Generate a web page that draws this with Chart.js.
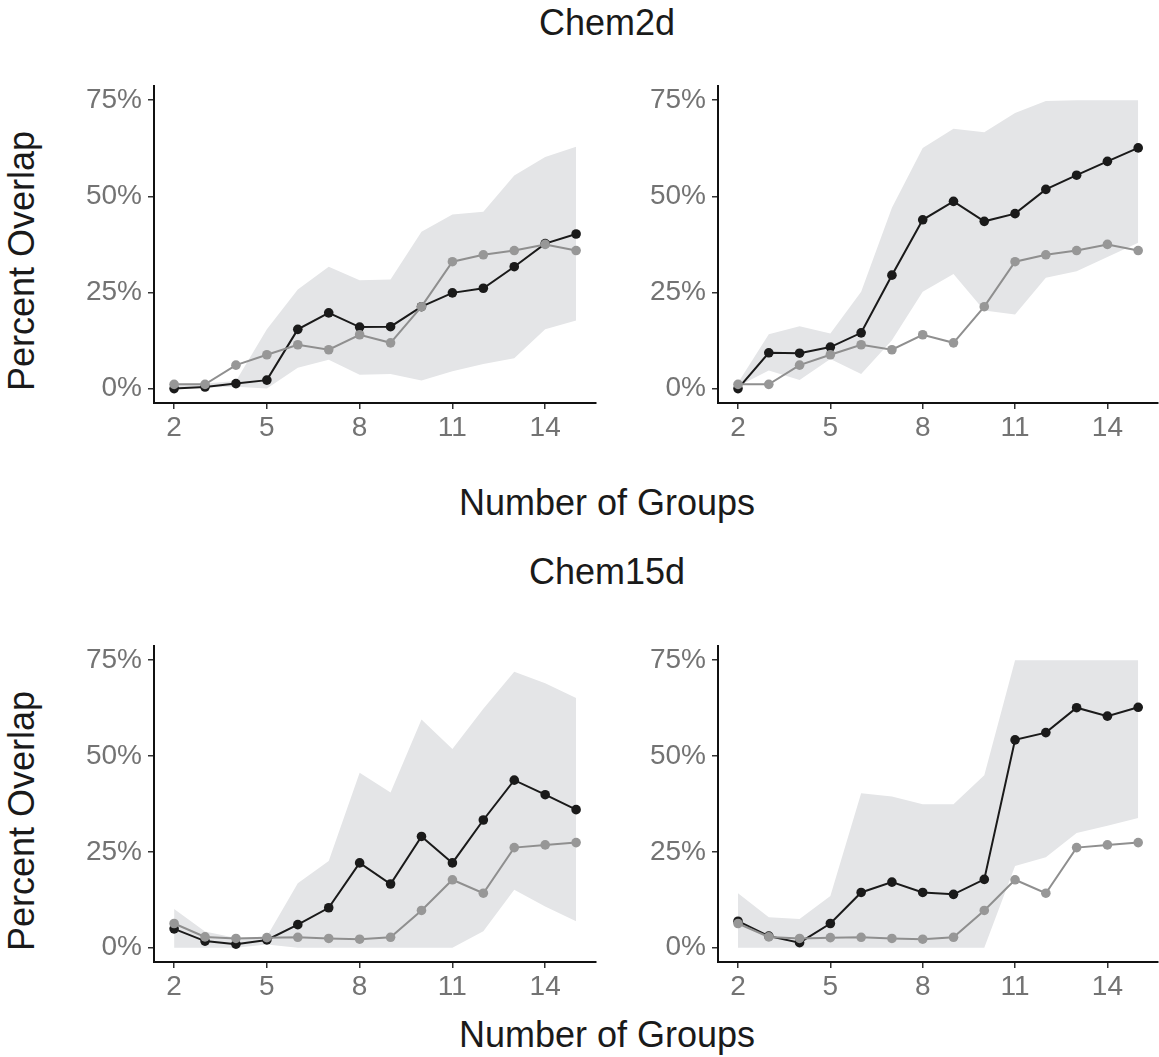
<!DOCTYPE html>
<html>
<head>
<meta charset="utf-8">
<script src="https://cdn.jsdelivr.net/npm/chart.js@4.4.0/dist/chart.umd.min.js"></script>
<style>
  html, body { margin: 0; padding: 0; background: #fff; overflow: hidden; }
  body { width: 1159px; height: 1057px; position: relative; font-family: "Liberation Sans", Arial, sans-serif; }
  canvas { position: absolute; }
  .title { position: absolute; left: 0; width: 1214px; text-align: center; font-size: 36px; line-height: 36px; color: #1a1a1a; white-space: nowrap; }
  .ylab { position: absolute; width: 320px; height: 36px; font-size: 36px; line-height: 36px; text-align: center; color: #1a1a1a; white-space: nowrap;
          transform: translate(-50%, -50%) rotate(-90deg); }
</style>
</head>
<body>
<div class="title" style="top:5px">Chem2d</div>
<div class="title" style="top:485px">Number of Groups</div>
<div class="title" style="top:554px">Chem15d</div>
<div class="title" style="top:1017px">Number of Groups</div>
<div class="ylab" style="left:22px; top:261px">Percent Overlap</div>
<div class="ylab" style="left:22px; top:821px">Percent Overlap</div>

<canvas id="c1"></canvas>
<canvas id="c2"></canvas>
<canvas id="c3"></canvas>
<canvas id="c4"></canvas>

<script>
// x values (number of groups) and axis ticks
const groups = [2, 3, 4, 5, 6, 7, 8, 9, 10, 11, 12, 13, 14, 15];
const xTicks = [2, 5, 8, 11, 14];
const yTicks = [0, 25, 50, 75];

// Chem2d
const chem2dGray = [1.1, 1.1, 6.1, 8.8, 11.4, 10.1, 14.0, 11.9, 21.3, 33.0, 34.8, 35.9, 37.5, 35.9];
const chem2dLeftBlack = [0, 0.4, 1.3, 2.2, 15.4, 19.7, 16.0, 16.1, 21.3, 24.9, 26.1, 31.7, 37.7, 40.2];
const chem2dLeftUpper = [1.2, 1.3, 2.0, 15.4, 25.8, 31.7, 28.2, 28.4, 40.8, 45.3, 46.0, 55.4, 60.2, 62.9];
const chem2dLeftLower = [0.2, 0.3, 0.5, 0, 5.4, 7.5, 3.6, 3.8, 2.1, 4.5, 6.4, 7.9, 15.4, 17.7];
const chem2dRightBlack = [0, 9.3, 9.2, 10.8, 14.5, 29.5, 43.9, 48.7, 43.5, 45.5, 51.8, 55.5, 59.1, 62.6];
const chem2dRightUpper = [1.5, 14.1, 16.2, 14.3, 25.2, 47.0, 62.6, 67.6, 66.7, 71.7, 74.8, 75, 75, 75];
const chem2dRightLower = [0.6, 4.7, 2.2, 7.7, 3.8, 12.6, 25.2, 29.8, 20.3, 19.3, 28.8, 30.5, 34.2, 37.9];

// Chem15d
const chem15dGray = [6.3, 2.8, 2.4, 2.6, 2.7, 2.4, 2.2, 2.7, 9.7, 17.7, 14.2, 26.1, 26.8, 27.4];
const chem15dLeftBlack = [4.9, 1.7, 0.9, 2.0, 6.0, 10.4, 22.1, 16.6, 29.0, 22.1, 33.3, 43.7, 39.9, 36.0];
const chem15dLeftUpper = [10.1, 4.2, 2.5, 2.9, 16.8, 22.6, 45.6, 40.5, 59.5, 51.8, 62.3, 72.0, 69.0, 65.1];
const chem15dLeftLower = [0, 0, 0, 0.8, 0, 0, 0, 0, 0, 0, 4.3, 15.1, 10.7, 6.9];
const chem15dRightBlack = [6.9, 3.0, 1.3, 6.3, 14.4, 17.1, 14.4, 13.9, 17.8, 54.2, 56.1, 62.6, 60.4, 62.7];
const chem15dRightUpper = [14.2, 7.9, 7.5, 13.5, 40.3, 39.4, 37.4, 37.4, 45.0, 75, 75, 75, 75, 75];
const chem15dRightLower = [0, 0, 0, 0, 0, 0, 0, 0, 0, 21.3, 23.6, 29.9, 31.8, 33.8];

const Y_AXIS_W = 90, X_AXIS_H = 55, PAD_TOP = 20, EXTRA_RIGHT = 5;
const tickFont = { family: 'Liberation Sans, Arial, sans-serif', size: 28 };
const tickColor = '#737373';

function pts(arr) {
  return groups.map((g, i) => ({ x: g, y: arr[i] }));
}

function makePanel(id, left, top, width, height, upper, lower, black, gray) {
  const canvas = document.getElementById(id);
  // chart.js keeps a few px on the right, so the canvas is a bit wider than the plot
  canvas.width = Y_AXIS_W + width + EXTRA_RIGHT;
  canvas.height = PAD_TOP + height + X_AXIS_H;
  canvas.style.left = (left - Y_AXIS_W) + 'px';
  canvas.style.top = (top - PAD_TOP) + 'px';

  const hidden = { borderWidth: 0, pointRadius: 0, pointHoverRadius: 0 };

  new Chart(canvas.getContext('2d'), {
    type: 'line',
    data: {
      datasets: [
        Object.assign({ data: pts(upper), fill: '+1', backgroundColor: '#e4e5e7', order: 4 }, hidden),
        Object.assign({ data: pts(lower), fill: false, order: 3 }, hidden),
        {
          data: pts(black), borderColor: '#1a1a1a', backgroundColor: '#1a1a1a', borderWidth: 2,
          pointRadius: 4.8, pointBorderWidth: 0, pointBackgroundColor: '#1a1a1a', fill: false, order: 2, clip: false
        },
        {
          data: pts(gray), borderColor: '#8f8f8f', backgroundColor: '#8f8f8f', borderWidth: 2,
          pointRadius: 4.8, pointBorderWidth: 0, pointBackgroundColor: '#979797', fill: false, order: 1, clip: false
        }
      ]
    },
    options: {
      responsive: false,
      animation: false,
      devicePixelRatio: 1,
      layout: { padding: { top: PAD_TOP, right: 0, left: 0, bottom: 0 } },
      plugins: { legend: { display: false }, tooltip: { enabled: false } },
      elements: { line: { tension: 0 } },
      scales: {
        x: {
          type: 'linear', min: 1.35, max: 15.65,
          afterBuildTicks: s => { s.ticks = xTicks.map(v => ({ value: v })); },
          afterFit: s => { s.height = X_AXIS_H; },
          grid: { drawOnChartArea: false, drawTicks: true, tickLength: 6, color: '#333', lineWidth: 1.5 },
          border: { display: true, color: '#111', width: 2 },
          ticks: { font: tickFont, color: tickColor, padding: 2, maxRotation: 0 }
        },
        y: {
          min: -3.75, max: 78.75,
          afterBuildTicks: s => { s.ticks = yTicks.map(v => ({ value: v })); },
          afterFit: s => { s.width = Y_AXIS_W; },
          grid: { drawOnChartArea: false, drawTicks: true, tickLength: 6, color: '#333', lineWidth: 1.5 },
          border: { display: true, color: '#111', width: 2 },
          ticks: { font: tickFont, color: tickColor, padding: 6, callback: v => v + '%' }
        }
      }
    }
  });
}

makePanel('c1', 154, 83, 442, 320, chem2dLeftUpper, chem2dLeftLower, chem2dLeftBlack, chem2dGray);
makePanel('c2', 718, 83, 440, 320, chem2dRightUpper, chem2dRightLower, chem2dRightBlack, chem2dGray);
makePanel('c3', 154, 643, 442, 319, chem15dLeftUpper, chem15dLeftLower, chem15dLeftBlack, chem15dGray);
makePanel('c4', 718, 643, 440, 319, chem15dRightUpper, chem15dRightLower, chem15dRightBlack, chem15dGray);
</script>
</body>
</html>
